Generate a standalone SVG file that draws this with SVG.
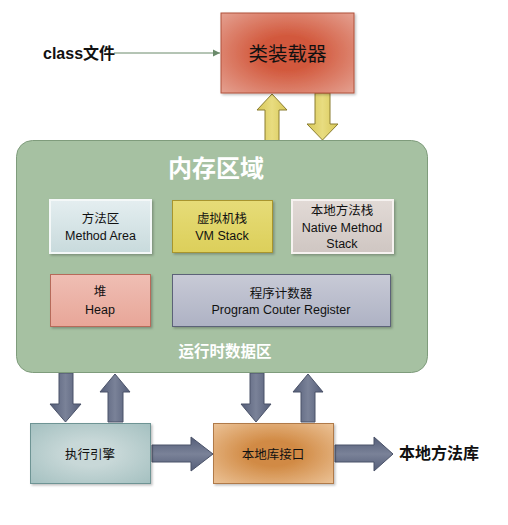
<svg xmlns="http://www.w3.org/2000/svg" width="508" height="525" viewBox="0 0 508 525">
<defs>
<style>
.cn{font-family:"Liberation Sans","Noto Sans CJK SC",sans-serif;fill:#111;}
.t{font-size:12.5px;text-anchor:middle;}
.w{fill:#fff;font-weight:bold;text-anchor:middle;}
.dark{fill:url(#gDark);stroke:#4a5268;stroke-width:1;}
.yel{fill:url(#gYel);stroke:#8a7d30;stroke-width:1;}
</style>
<radialGradient id="gRed" cx="0.5" cy="0.5" r="0.7"><stop offset="0.3" stop-color="#d2583c"/><stop offset="1" stop-color="#e4a090"/></radialGradient>
<radialGradient id="gOra" cx="0.5" cy="0.5" r="0.7"><stop offset="0.3" stop-color="#d18a44"/><stop offset="1" stop-color="#ebc296"/></radialGradient>
<radialGradient id="gTeal" cx="0.5" cy="0.5" r="0.7"><stop offset="0.3" stop-color="#c8d8d8"/><stop offset="1" stop-color="#a4c0c0"/></radialGradient>
<linearGradient id="gBlue" x1="0" y1="0" x2="0" y2="1"><stop offset="0" stop-color="#e4eef0"/><stop offset="1" stop-color="#c8dadc"/></linearGradient>
<linearGradient id="gVM" x1="0" y1="0" x2="0" y2="1"><stop offset="0" stop-color="#e6dc78"/><stop offset="1" stop-color="#dccf5a"/></linearGradient>
<linearGradient id="gNat" x1="0" y1="0" x2="0" y2="1"><stop offset="0" stop-color="#e2dad6"/><stop offset="1" stop-color="#cfc6c2"/></linearGradient>
<linearGradient id="gHeap" x1="0" y1="0" x2="0" y2="1"><stop offset="0" stop-color="#efbeb4"/><stop offset="1" stop-color="#e8a698"/></linearGradient>
<linearGradient id="gPC" x1="0" y1="0" x2="0" y2="1"><stop offset="0" stop-color="#c8cad6"/><stop offset="1" stop-color="#aeb2c4"/></linearGradient>
<linearGradient id="gDark" x1="0" y1="0" x2="1" y2="0"><stop offset="0" stop-color="#545d78"/><stop offset="0.5" stop-color="#7a8298"/><stop offset="1" stop-color="#545d78"/></linearGradient>
<linearGradient id="gDarkH" x1="0" y1="0" x2="0" y2="1"><stop offset="0" stop-color="#545d78"/><stop offset="0.5" stop-color="#7a8298"/><stop offset="1" stop-color="#545d78"/></linearGradient>
<linearGradient id="gYel" x1="0" y1="0" x2="1" y2="0"><stop offset="0" stop-color="#d8c858"/><stop offset="0.5" stop-color="#e8dc80"/><stop offset="1" stop-color="#d8c858"/></linearGradient>
<marker id="ah" markerWidth="8" markerHeight="8" refX="7" refY="4" orient="auto" markerUnits="userSpaceOnUse"><path d="M0,0.5 L7,4 L0,7.5 z" fill="#6a8a6a"/></marker>
<filter id="sh" x="-10%" y="-10%" width="130%" height="130%"><feDropShadow dx="1.5" dy="1.5" stdDeviation="1.2" flood-color="#000" flood-opacity="0.25"/></filter>
</defs>

<g id="connectors">
<line x1="114" y1="53" x2="220" y2="53" stroke="#6a8a6a" stroke-width="1" marker-end="url(#ah)"/>
<path class="yel" d="M272,94 L287,110 L279,110 L279,141 L265,141 L265,110 L257,110 Z"/>
<path class="yel" d="M315,93 L330,93 L330,124 L338,124 L322.5,140 L307,124 L315,124 Z"/>
<path class="dark" d="M59,373 L73,373 L73,404 L81,404 L65.5,422 L50,404 L59,404 Z"/>
<path class="dark" d="M115,374 L130,392 L123,392 L123,422 L108,422 L108,392 L100,392 Z"/>
<path class="dark" d="M250,373 L264,373 L264,404 L271,404 L256,422 L241,404 L250,404 Z"/>
<path class="dark" d="M308,374 L323,392 L315,392 L315,422 L301,422 L301,392 L293,392 Z"/>
<path d="M152,445 L191,445 L191,437 L213,454 L191,471 L191,462 L152,462 Z" fill="url(#gDarkH)" stroke="#4a5268"/>
<path d="M335,445 L374,445 L374,437 L393,454 L374,471 L374,462 L335,462 Z" fill="url(#gDarkH)" stroke="#4a5268"/>
</g>

<g id="class-file">
<text class="cn" x="43" y="59" font-size="16" font-weight="bold">class文件</text>
</g>

<g id="class-loader">
<rect x="221" y="13" width="133" height="80" fill="url(#gRed)" stroke="#b0503a" filter="url(#sh)"/>
<text class="cn" x="287.5" y="61" font-size="19.5" text-anchor="middle">类装载器</text>
</g>

<g id="memory">
<rect x="16.5" y="140.5" width="411" height="232" rx="16" fill="#a6c1a2" stroke="#7f9c7c"/>
<text class="cn w" x="216" y="177" font-size="24">内存区域</text>
<text class="cn w" x="225" y="357" font-size="15.5">运行时数据区</text>
</g>

<g id="method-area">
<rect x="50" y="200" width="101" height="53" fill="url(#gBlue)" stroke="#f4f8f8" stroke-width="2" filter="url(#sh)"/>
<text class="cn t" x="100.5" y="223">方法区</text>
<text class="cn t" x="100.5" y="240">Method Area</text>
</g>

<g id="vm-stack">
<rect x="172.5" y="200.5" width="100" height="52" fill="url(#gVM)" stroke="#a8952e" filter="url(#sh)"/>
<text class="cn t" x="222" y="223">虚拟机栈</text>
<text class="cn t" x="222" y="240">VM Stack</text>
</g>

<g id="native-stack">
<rect x="292" y="200" width="101" height="53" fill="url(#gNat)" stroke="#f6f2f0" stroke-width="2" filter="url(#sh)"/>
<text class="cn t" x="342" y="215">本地方法栈</text>
<text class="cn t" x="342" y="232">Native Method</text>
<text class="cn t" x="342" y="248">Stack</text>
</g>

<g id="heap">
<rect x="50.5" y="274.5" width="100" height="52" fill="url(#gHeap)" stroke="#b66a5a" filter="url(#sh)"/>
<text class="cn t" x="100" y="296">堆</text>
<text class="cn t" x="100" y="314">Heap</text>
</g>

<g id="pc-register">
<rect x="172.5" y="274.5" width="218" height="52" fill="url(#gPC)" stroke="#5c6278" filter="url(#sh)"/>
<text class="cn t" x="281" y="298">程序计数器</text>
<text class="cn t" x="281" y="314">Program Couter Register</text>
</g>

<g id="exec-engine">
<rect x="30.5" y="423.5" width="120" height="60" fill="url(#gTeal)" stroke="#6e9494" filter="url(#sh)"/>
<text class="cn t" x="90" y="459">执行引擎</text>
</g>

<g id="native-interface">
<rect x="213.5" y="423.5" width="120" height="60" fill="url(#gOra)" stroke="#b07a48" filter="url(#sh)"/>
<text class="cn t" x="273" y="459">本地库接口</text>
</g>

<g id="native-lib">
<text class="cn" x="399" y="459" font-size="16" font-weight="bold">本地方法库</text>
</g>
</svg>
